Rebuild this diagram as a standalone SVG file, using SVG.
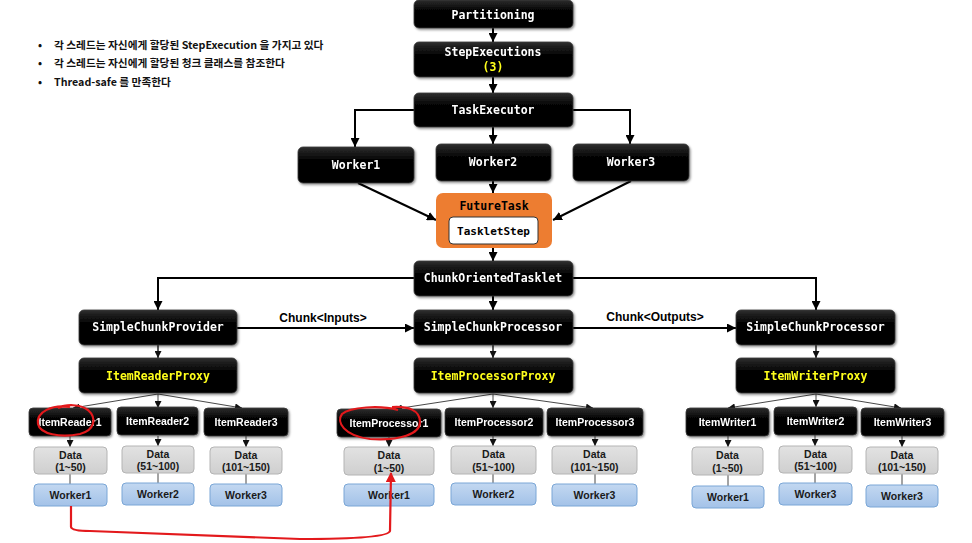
<svg xmlns="http://www.w3.org/2000/svg" width="972" height="543" viewBox="0 0 972 543">
<style>
.bk{fill:url(#gk);stroke:#3a3a3a;stroke-width:0.8}
.mt{font-family:"DejaVu Sans Mono","Liberation Mono",monospace;font-weight:bold;font-size:11.5px;fill:#fff;text-anchor:middle}
.yl{fill:#ffff1a}
.st{font-family:"Liberation Sans",Arial,sans-serif;font-weight:bold;font-size:10.5px;fill:#fff;text-anchor:middle}
.dt{font-family:"Liberation Sans",Arial,sans-serif;font-weight:bold;font-size:10.5px;fill:#1a1a1a;text-anchor:middle}
.gr{fill:url(#gg);stroke:#b4b4b4;stroke-width:1}
.bl{fill:url(#gb);stroke:#7aa6d6;stroke-width:1}
.cn{fill:none;stroke:#000;stroke-width:2}
.fn{fill:none;stroke:#333;stroke-width:0.9}
.lb{font-family:"Liberation Sans",Arial,sans-serif;font-weight:bold;font-size:12px;fill:#000;text-anchor:middle}
.bt{font-family:"Noto Sans CJK KR","Liberation Sans",sans-serif;font-weight:bold;font-size:10.7px;fill:#111}
.red{fill:none;stroke:#e3191c;stroke-width:2.2}
</style>
<defs>
<linearGradient id="gk" x1="0" y1="0" x2="0" y2="1"><stop offset="0" stop-color="#2e2e2e"/><stop offset="0.35" stop-color="#050505"/><stop offset="1" stop-color="#000"/></linearGradient>
<linearGradient id="gg" x1="0" y1="0" x2="0" y2="1"><stop offset="0" stop-color="#e2e2e2"/><stop offset="1" stop-color="#cfcfcf"/></linearGradient>
<linearGradient id="gb" x1="0" y1="0" x2="0" y2="1"><stop offset="0" stop-color="#c3d8f1"/><stop offset="1" stop-color="#a3c2e8"/></linearGradient>
<filter id="sh" x="-10%" y="-20%" width="125%" height="150%"><feDropShadow dx="1.2" dy="1.5" stdDeviation="1.2" flood-color="#000" flood-opacity="0.45"/></filter>
<marker id="ah" markerUnits="userSpaceOnUse" markerWidth="9" markerHeight="9" refX="9" refY="4.5" orient="auto" viewBox="0 0 9 9"><path d="M0,0 L9,4.5 L0,9 z" fill="#000"/></marker>
<marker id="as" markerUnits="userSpaceOnUse" markerWidth="7" markerHeight="7" refX="7" refY="3.5" orient="auto" viewBox="0 0 7 7"><path d="M0,0 L7,3.5 L0,7 z" fill="#111"/></marker>
<marker id="ar" markerUnits="userSpaceOnUse" markerWidth="10" markerHeight="10" refX="9" refY="5" orient="auto" viewBox="0 0 10 10"><path d="M0,0 L10,5 L0,10 z" fill="#e3191c"/></marker>
</defs>

<g id="notes">
<text class="bt" x="38" y="49">•</text><text class="bt" x="54" y="49">각 스레드는 자신에게 할당된 StepExecution 을 가지고 있다</text>
<text class="bt" x="38" y="67">•</text><text class="bt" x="54" y="67">각 스레드는 자신에게 할당된 청크 클래스를 참조한다</text>
<text class="bt" x="38" y="86">•</text><text class="bt" x="54" y="86">Thread-safe 를 만족한다</text>
</g>

<g id="connectors">
<path class="cn" d="M493,28 V42" marker-end="url(#ah)"/>
<path class="cn" d="M493,77 V93" marker-end="url(#ah)"/>
<path class="cn" d="M493,127 V144" marker-end="url(#ah)"/>
<path class="cn" d="M414,110 H355 V147" marker-end="url(#ah)"/>
<path class="cn" d="M573,110 H630 V144" marker-end="url(#ah)"/>
<path class="cn" d="M493,181 V193" marker-end="url(#ah)"/>
<path class="cn" d="M358,183 L436,220" marker-end="url(#ah)"/>
<path class="cn" d="M631,181 L553,220" marker-end="url(#ah)"/>
<path class="cn" d="M493,248 V261" marker-end="url(#ah)"/>
<path class="cn" d="M414,278 H158 V310" marker-end="url(#ah)"/>
<path class="cn" d="M573,278 H816 V310" marker-end="url(#ah)"/>
<path class="cn" d="M493,296 V310" marker-end="url(#ah)"/>
<path class="cn" d="M237,328 H414" marker-end="url(#ah)"/>
<path class="cn" d="M573,328 H736" marker-end="url(#ah)"/>
<path class="fn" style="stroke-width:1.3;stroke:#000" d="M158,345 V358" marker-end="url(#as)"/>
<path class="fn" style="stroke-width:1.3;stroke:#000" d="M493,345 V358" marker-end="url(#as)"/>
<path class="fn" style="stroke-width:1.3;stroke:#000" d="M816,345 V358" marker-end="url(#as)"/>
<path class="fn" d="M158,394 L73,408" marker-end="url(#as)"/>
<path class="fn" d="M158,394 V408" marker-end="url(#as)"/>
<path class="fn" d="M158,394 L242,408" marker-end="url(#as)"/>
<path class="fn" d="M493,394 L395,409" marker-end="url(#as)"/>
<path class="fn" d="M493,394 V408" marker-end="url(#as)"/>
<path class="fn" d="M493,394 L593,408" marker-end="url(#as)"/>
<path class="fn" d="M816,394 L728,408" marker-end="url(#as)"/>
<path class="fn" d="M816,394 V407" marker-end="url(#as)"/>
<path class="fn" d="M816,394 L901,408" marker-end="url(#as)"/>
<path class="fn" d="M70,436 V447" marker-end="url(#as)"/>
<path class="fn" d="M158,436 V446" marker-end="url(#as)"/>
<path class="fn" d="M246,436 V447" marker-end="url(#as)"/>
<path class="fn" d="M389,437 V447" marker-end="url(#as)"/>
<path class="fn" d="M493,436 V446" marker-end="url(#as)"/>
<path class="fn" d="M595,436 V446" marker-end="url(#as)"/>
<path class="fn" d="M728,436 V447" marker-end="url(#as)"/>
<path class="fn" d="M815,435 V446" marker-end="url(#as)"/>
<path class="fn" d="M902,436 V447" marker-end="url(#as)"/>
<path class="fn" d="M70,474 V484 M158,473 V483 M246,474 V484 M493,474 V483 M595,474 V484 M728,475 V486 M815,473 V483 M902,474 V485"/>
</g>

<g id="partitioning" filter="url(#sh)"><rect class="bk" x="414" y="0" width="159" height="28" rx="5"/><text class="mt" x="493" y="18.5">Partitioning</text></g>
<g id="stepexecutions" filter="url(#sh)"><rect class="bk" x="414" y="42" width="159" height="35" rx="5"/><text class="mt" x="493" y="56">StepExecutions</text><text class="mt yl" x="493" y="71">(3)</text></g>
<g id="taskexecutor" filter="url(#sh)"><rect class="bk" x="414" y="93" width="159" height="34" rx="5"/><text class="mt" x="493" y="114">TaskExecutor</text></g>
<g id="worker1" filter="url(#sh)"><rect class="bk" x="298" y="147" width="116" height="36" rx="5"/><text class="mt" x="356" y="169">Worker1</text></g>
<g id="worker2" filter="url(#sh)"><rect class="bk" x="436" y="144" width="115" height="37" rx="5"/><text class="mt" x="493" y="166">Worker2</text></g>
<g id="worker3" filter="url(#sh)"><rect class="bk" x="573" y="144" width="116" height="37" rx="5"/><text class="mt" x="631" y="166">Worker3</text></g>
<g id="futuretask"><rect x="436" y="193" width="116" height="55" rx="7" fill="#ed7d31"/><text class="mt" x="494" y="210" style="fill:#000">FutureTask</text>
<g id="taskletstep"><rect x="449" y="217" width="89" height="27" rx="4" fill="#fff" stroke="#333" stroke-width="1"/><text class="mt" x="493.5" y="234.5" style="fill:#000;font-size:11px">TaskletStep</text></g></g>
<g id="chunkorientedtasklet" filter="url(#sh)"><rect class="bk" x="414" y="261" width="159" height="35" rx="5"/><text class="mt" x="493" y="282">ChunkOrientedTasklet</text></g>
<g id="simplechunkprovider" filter="url(#sh)"><rect class="bk" x="79" y="310" width="158" height="35" rx="5"/><text class="mt" x="158" y="331">SimpleChunkProvider</text></g>
<g id="simplechunkprocessor1" filter="url(#sh)"><rect class="bk" x="414" y="310" width="159" height="35" rx="5"/><text class="mt" x="493" y="331">SimpleChunkProcessor</text></g>
<g id="simplechunkprocessor2" filter="url(#sh)"><rect class="bk" x="736" y="310" width="159" height="35" rx="5"/><text class="mt" x="815.5" y="331">SimpleChunkProcessor</text></g>
<g id="itemreaderproxy" filter="url(#sh)"><rect class="bk" x="79" y="358" width="158" height="35" rx="5"/><text class="mt yl" x="158" y="380">ItemReaderProxy</text></g>
<g id="itemprocessorproxy" filter="url(#sh)"><rect class="bk" x="414" y="358" width="159" height="35" rx="5"/><text class="mt yl" x="493" y="380">ItemProcessorProxy</text></g>
<g id="itemwriterproxy" filter="url(#sh)"><rect class="bk" x="736" y="358" width="159" height="35" rx="5"/><text class="mt yl" x="815.5" y="380">ItemWriterProxy</text></g>

<g id="label-inputs"><text class="lb" x="323" y="322">Chunk&lt;Inputs&gt;</text></g>
<g id="label-outputs"><text class="lb" x="655" y="321">Chunk&lt;Outputs&gt;</text></g>

<g id="itemreader1" filter="url(#sh)"><rect class="bk" x="29" y="408" width="82" height="28" rx="4"/><text class="st" x="70" y="426">ItemReader1</text></g>
<g id="itemreader2" filter="url(#sh)"><rect class="bk" x="117" y="407" width="81" height="28" rx="4"/><text class="st" x="157.5" y="425">ItemReader2</text></g>
<g id="itemreader3" filter="url(#sh)"><rect class="bk" x="204" y="408" width="84" height="28" rx="4"/><text class="st" x="246" y="426">ItemReader3</text></g>
<g id="itemprocessor1" filter="url(#sh)"><rect class="bk" x="337" y="409" width="104" height="28" rx="4"/><text class="st" x="389" y="427">ItemProcessor1</text></g>
<g id="itemprocessor2" filter="url(#sh)"><rect class="bk" x="445" y="408" width="98" height="28" rx="4"/><text class="st" x="494" y="426">ItemProcessor2</text></g>
<g id="itemprocessor3" filter="url(#sh)"><rect class="bk" x="547" y="408" width="96" height="28" rx="4"/><text class="st" x="595" y="426">ItemProcessor3</text></g>
<g id="itemwriter1" filter="url(#sh)"><rect class="bk" x="686" y="408" width="83" height="28" rx="4"/><text class="st" x="727.5" y="426">ItemWriter1</text></g>
<g id="itemwriter2" filter="url(#sh)"><rect class="bk" x="774" y="407" width="83" height="28" rx="4"/><text class="st" x="815.5" y="425">ItemWriter2</text></g>
<g id="itemwriter3" filter="url(#sh)"><rect class="bk" x="861" y="408" width="83" height="28" rx="4"/><text class="st" x="902.5" y="426">ItemWriter3</text></g>

<g id="data-r1"><rect class="gr" x="34" y="447" width="73" height="27" rx="4"/><text class="dt" x="70.5" y="459">Data</text><text class="dt" x="70.5" y="471">(1~50)</text></g>
<g id="data-r2"><rect class="gr" x="122" y="446" width="72" height="27" rx="4"/><text class="dt" x="158" y="458">Data</text><text class="dt" x="158" y="470">(51~100)</text></g>
<g id="data-r3"><rect class="gr" x="210" y="447" width="72" height="27" rx="4"/><text class="dt" x="246" y="459">Data</text><text class="dt" x="246" y="471">(101~150)</text></g>
<g id="data-p1"><rect class="gr" x="344" y="447" width="90" height="28" rx="4"/><text class="dt" x="389" y="459">Data</text><text class="dt" x="389" y="471.5">(1~50)</text></g>
<g id="data-p2"><rect class="gr" x="451" y="446" width="85" height="28" rx="4"/><text class="dt" x="493.5" y="458">Data</text><text class="dt" x="493.5" y="470.5">(51~100)</text></g>
<g id="data-p3"><rect class="gr" x="552" y="446" width="85" height="28" rx="4"/><text class="dt" x="594.5" y="458">Data</text><text class="dt" x="594.5" y="470.5">(101~150)</text></g>
<g id="data-w1"><rect class="gr" x="692" y="447" width="71" height="28" rx="4"/><text class="dt" x="727.5" y="459">Data</text><text class="dt" x="727.5" y="471.5">(1~50)</text></g>
<g id="data-w2"><rect class="gr" x="779" y="446" width="73" height="27" rx="4"/><text class="dt" x="815.5" y="458">Data</text><text class="dt" x="815.5" y="470">(51~100)</text></g>
<g id="data-w3"><rect class="gr" x="866" y="447" width="72" height="27" rx="4"/><text class="dt" x="902" y="459">Data</text><text class="dt" x="902" y="471">(101~150)</text></g>

<g id="worker-r1"><rect class="bl" x="34" y="484" width="73" height="22" rx="4"/><text class="dt" x="70.5" y="499">Worker1</text></g>
<g id="worker-r2"><rect class="bl" x="122" y="483" width="72" height="22" rx="4"/><text class="dt" x="158" y="498">Worker2</text></g>
<g id="worker-r3"><rect class="bl" x="210" y="484" width="72" height="22" rx="4"/><text class="dt" x="246" y="499">Worker3</text></g>
<g id="worker-p1"><rect class="bl" x="344" y="484" width="90" height="22" rx="4"/><text class="dt" x="389" y="499">Worker1</text></g>
<g id="worker-p2"><rect class="bl" x="451" y="483" width="85" height="22" rx="4"/><text class="dt" x="493.5" y="498">Worker2</text></g>
<g id="worker-p3"><rect class="bl" x="552" y="484" width="85" height="22" rx="4"/><text class="dt" x="594.5" y="499">Worker3</text></g>
<g id="worker-w1"><rect class="bl" x="692" y="486" width="72" height="22" rx="4"/><text class="dt" x="728" y="501">Worker1</text></g>
<g id="worker-w2"><rect class="bl" x="779" y="483" width="73" height="22" rx="4"/><text class="dt" x="815.5" y="498">Worker3</text></g>
<g id="worker-w3"><rect class="bl" x="866" y="485" width="72" height="22" rx="4"/><text class="dt" x="902" y="500">Worker3</text></g>

<g id="annotations">
<path class="red" d="M70,407 C52,404 36,412 38,424 C40,434 60,438 80,434 C95,430 97,418 88,410 C80,404 66,404 58,408"/>
<path class="red" d="M398,410 C380,405 350,407 342,414 C336,422 344,436 370,439 C400,441 420,434 420,422 C420,410 408,406 392,407"/>
<path class="red" d="M71,506 V527 Q72,531 90,531 L300,539 Q388,539 390,531 L391,473" marker-end="url(#ar)"/>
</g>
</svg>
